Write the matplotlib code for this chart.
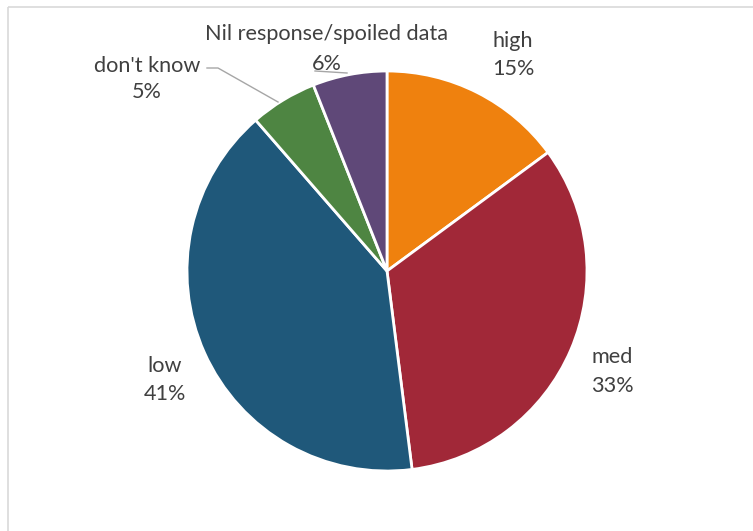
import matplotlib
matplotlib.use("Agg")
import matplotlib.pyplot as plt
from matplotlib.patches import Rectangle

categories = ["high", "med", "low", "don't know", "Nil response/spoiled data"]
values = [14.9, 33.1, 40.6, 5.4, 6.0]
colors = ["#EF810E", "#A12838", "#1F587A", "#4E8542", "#5F4878"]

# label layout (pixel coords: center x, name baseline y, pct baseline y)
label_pos = [(513, 47, 75), (612, 363, 392), (165, 372, 400),
             (147, 72, 98), (327, 40, 70)]

W, H = 753, 531
fig = plt.figure(figsize=(W / 100, H / 100), dpi=100)
ax = fig.add_axes([0, 0, 1, 1])

# chart-area frame
ax.add_patch(Rectangle((8, 7), 900, 700, fill=False, edgecolor="#D9D9D9", lw=1.2))

ax.pie(values, colors=colors, startangle=-90, counterclock=True,
       center=(387, 271), radius=200, frame=True,
       wedgeprops=dict(edgecolor="white", linewidth=2.0))
ax.set_xlim(0, W)
ax.set_ylim(H, 0)
ax.set_aspect("equal")
ax.axis("off")

txt = dict(color="#404040", fontsize=15.6, family="Lato", ha="center", va="baseline")
for cat, v, (x, y1, y2) in zip(categories, values, label_pos):
    ax.text(x, y1, cat, **txt)
    ax.text(x, y2, f"{round(v):d}%", **txt)

# leader lines
ax.plot([207, 218, 278], [68, 68, 102], color="#A6A6A6", lw=1)
ax.plot([315, 347], [71, 73], color="#A6A6A6", lw=1)

fig.savefig("out.png", dpi=100)
